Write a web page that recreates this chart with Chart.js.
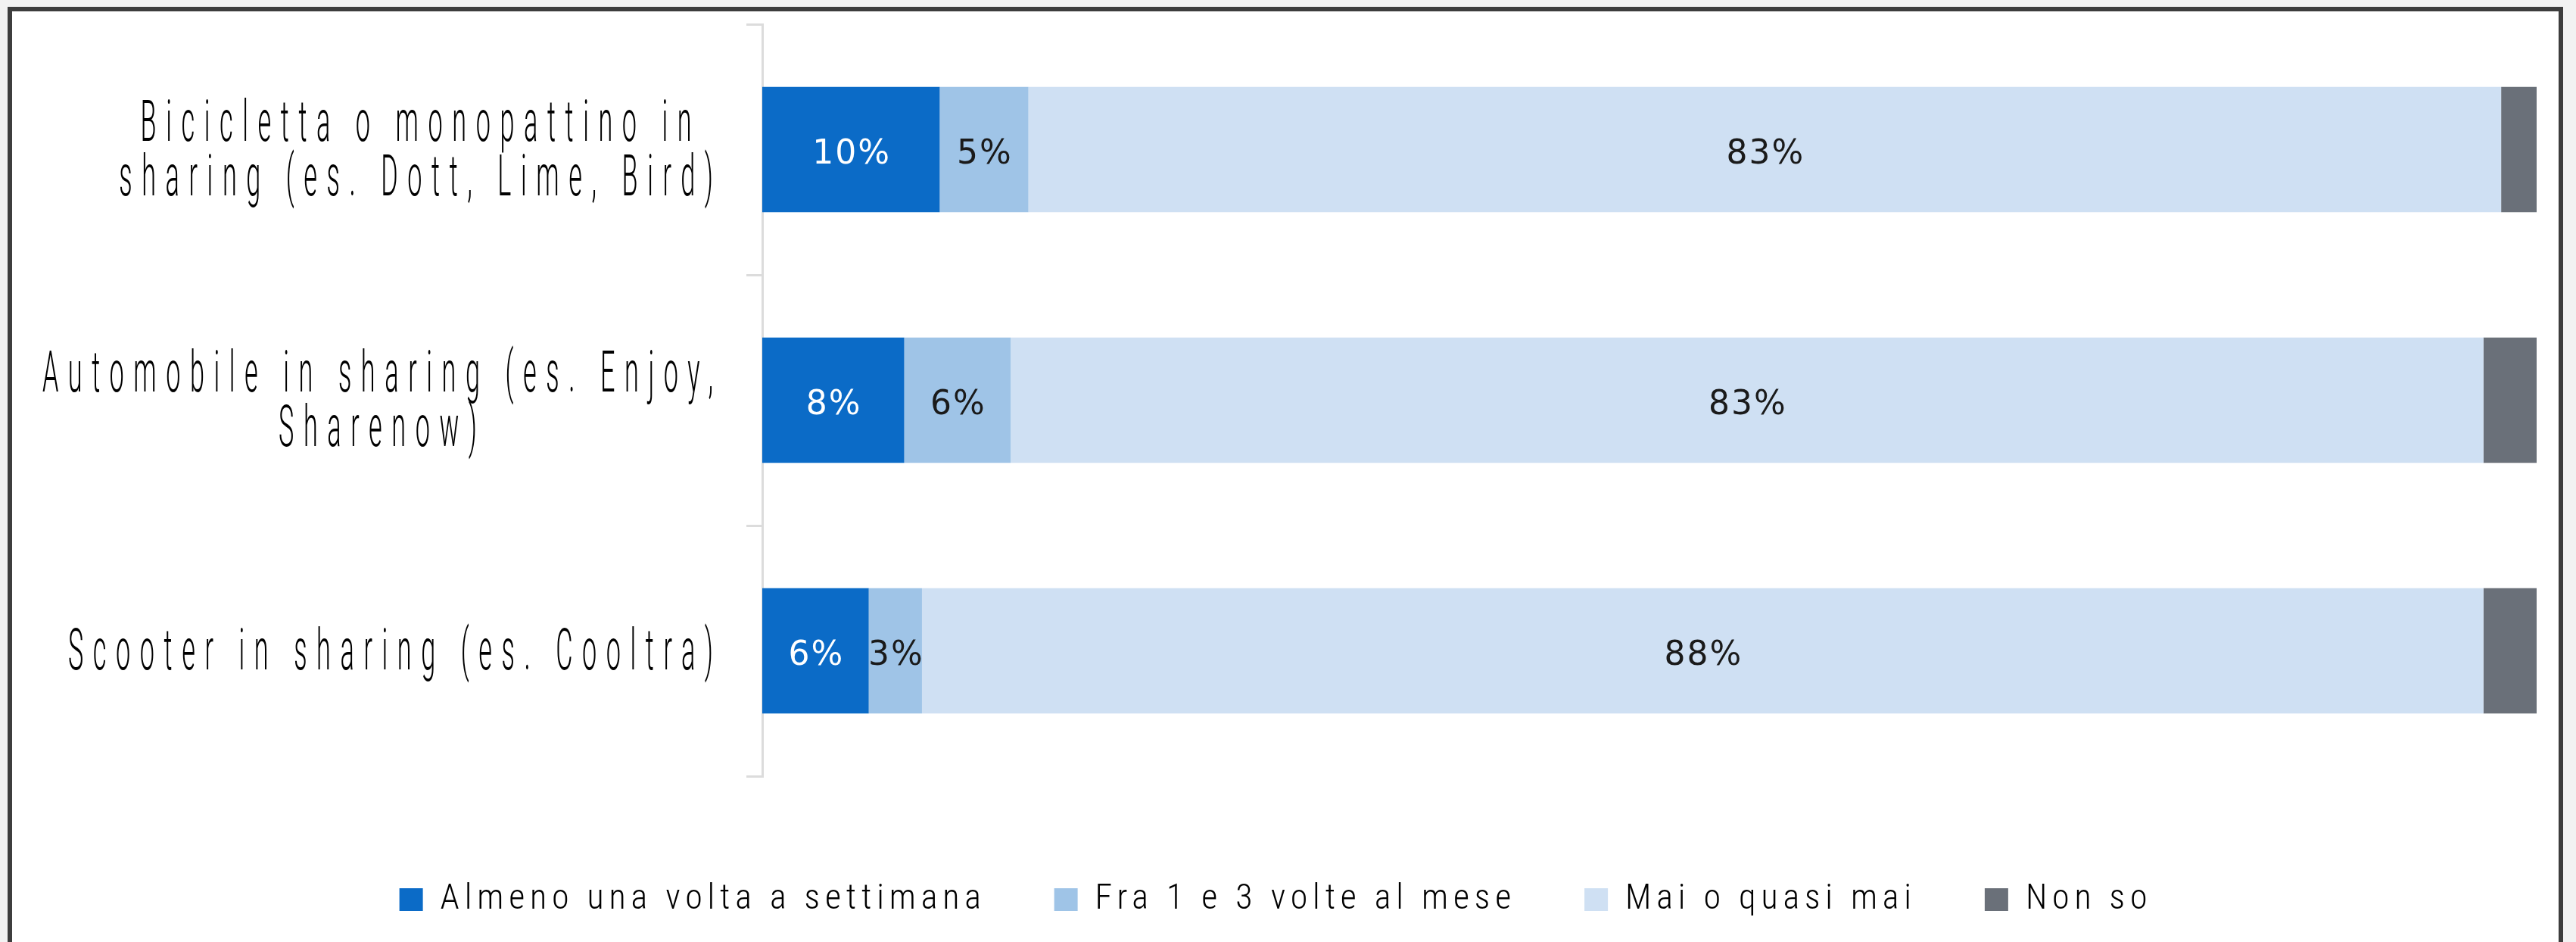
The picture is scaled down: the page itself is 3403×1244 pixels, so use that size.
<!DOCTYPE html>
<html>
<head>
<meta charset="utf-8">
<script src="https://cdn.jsdelivr.net/npm/chart.js@4/dist/chart.umd.min.js"></script>
<style>
  html, body { margin: 0; padding: 0; background: #f2f2f2; width: 3403px; height: 1244px; overflow: hidden; }
  .frame { position: absolute; left: 10px; top: 9px; width: 3376px; height: 1300px; box-sizing: border-box;
           border: 6px solid #3d3d3d; background: #ffffff; }
  #c { position: absolute; left: 0; top: 0; }
</style>
</head>
<body>
<div class="frame"></div>
<canvas id="c" width="3403" height="1244"></canvas>
<script>
// ---- data ----
const categories = [
  ['Bicicletta o monopattino in', 'sharing (es. Dott, Lime, Bird)'],
  ['Automobile in sharing (es. Enjoy,', 'Sharenow)'],
  ['Scooter in sharing (es. Cooltra)']
];
const seriesNames = ['Almeno una volta a settimana', 'Fra 1 e 3 volte al mese', 'Mai o quasi mai', 'Non so'];
const almenoSettimana = [10, 8, 6];
const fra1e3Mese = [5, 6, 3];
const maiQuasiMai = [83, 83, 88];
const nonSo = [2, 3, 3];
const valueSuffix = '%';

// ---- style ----
const seriesColors = ['#0b6bc7', '#9fc4e7', '#cfe0f3', '#6a7079'];
const labelColors = ['#ffffff', '#1a1a1a', '#1a1a1a', null];

function hasFont(name) {
  const c = document.createElement('canvas').getContext('2d');
  const s = 'mmmmmmmmmmlli WWW 0123';
  for (const base of ['monospace', 'serif', 'sans-serif']) {
    c.font = '72px ' + base; const w0 = c.measureText(s).width;
    c.font = '72px "' + name + '", ' + base; const w1 = c.measureText(s).width;
    if (w0 !== w1) return true;
  }
  return false;
}
const narrowFamily = ['Roboto Condensed', 'Liberation Sans Narrow', 'DejaVu Sans Condensed', 'Roboto']
  .find(hasFont) || 'sans-serif';
const legendFontSize = 46;
const legendFont = { family: '"' + narrowFamily + '", sans-serif', size: legendFontSize, weight: '300' };
const legendLS = (() => {
  const c = document.createElement('canvas').getContext('2d');
  c.font = '300 ' + legendFontSize + 'px "' + narrowFamily + '", sans-serif';
  const t = seriesNames[0];
  const w = c.measureText(t).width;
  return Math.max(0, (721 - w) / t.length);
})();

const catFont = '300 76px Roboto, sans-serif';
const catScaleX = 0.45;
const catLS = 28;
const catLineHeight = 72;
const catGap = 44;
const catYShift = 5;

const valueFont = '44px "DejaVu Sans", sans-serif';
const valueLS = 2;
const valueYShift = 7;

const spacingPlugin = {
  id: 'spacing',
  beforeLayout(chart) { chart.ctx.letterSpacing = legendLS + 'px'; },
  beforeDraw(chart) { chart.ctx.letterSpacing = legendLS + 'px'; }
};

const catLabelPlugin = {
  id: 'catLabels',
  afterDraw(chart) {
    const ctx = chart.ctx;
    const scale = chart.scales.y;
    const right = scale.right - scale.options.grid.tickLength - catGap;
    ctx.save();
    ctx.font = catFont;
    ctx.letterSpacing = catLS + 'px';
    ctx.fillStyle = '#000000';
    ctx.textBaseline = 'middle';
    ctx.textAlign = 'left';
    scale.ticks.forEach((t, i) => {
      const lines = [].concat(chart.data.labels[i]);
      const widths = lines.map(l => (ctx.measureText(l).width - catLS) * catScaleX);
      const blockW = Math.max(...widths);
      const cx = right - blockW / 2;
      const yc = scale.getPixelForTick(i) + catYShift;
      lines.forEach((l, j) => {
        const y = yc + (j - (lines.length - 1) / 2) * catLineHeight;
        ctx.save();
        ctx.translate(cx - widths[j] / 2, y);
        ctx.scale(catScaleX, 1);
        ctx.fillText(l, 0, 0);
        ctx.restore();
      });
    });
    ctx.restore();
  }
};

const valueLabelPlugin = {
  id: 'valueLabels',
  afterDatasetsDraw(chart) {
    const ctx = chart.ctx;
    ctx.save();
    ctx.font = valueFont;
    ctx.letterSpacing = valueLS + 'px';
    ctx.textBaseline = 'middle';
    ctx.textAlign = 'left';
    chart.data.datasets.forEach((ds, di) => {
      const col = labelColors[di];
      if (!col) return;
      const meta = chart.getDatasetMeta(di);
      meta.data.forEach((el, i) => {
        const txt = ds.data[i] + valueSuffix;
        const p = el.getCenterPoint();
        const w = ctx.measureText(txt).width - valueLS;
        ctx.fillStyle = col;
        ctx.fillText(txt, p.x - w / 2, p.y + valueYShift);
      });
    });
    ctx.restore();
  }
};

const seriesData = [almenoSettimana, fra1e3Mese, maiQuasiMai, nonSo];

new Chart(document.getElementById('c'), {
  type: 'bar',
  data: {
    labels: categories,
    datasets: seriesNames.map((name, i) => ({
      label: name,
      data: seriesData[i],
      backgroundColor: seriesColors[i],
      borderWidth: 0,
      categoryPercentage: 0.5,
      barPercentage: 1.0
    }))
  },
  options: {
    indexAxis: 'y',
    responsive: false,
    animation: false,
    devicePixelRatio: 1,
    layout: { padding: { left: 20, right: 52, top: 32, bottom: 23 } },
    scales: {
      x: { stacked: true, display: false, min: 0, max: 100 },
      y: {
        stacked: true,
        grid: { offset: true, drawOnChartArea: false, drawTicks: true, tickLength: 21, color: '#dcdcdc', lineWidth: 3 },
        border: { display: true, color: '#dcdcdc', width: 3 },
        ticks: { display: false },
        afterFit(s) { s.width = 987; }
      }
    },
    plugins: {
      tooltip: { enabled: false },
      legend: {
        position: 'bottom',
        title: { display: true, text: ' ', font: { size: 10, lineHeight: 1.2 }, padding: 19, color: 'rgba(0,0,0,0)' },
        labels: {
          font: legendFont,
          color: '#000000',
          boxWidth: 31,
          boxHeight: 30,
          padding: 90
        }
      }
    }
  },
  plugins: [spacingPlugin, catLabelPlugin, valueLabelPlugin]
});
</script>
</body>
</html>
